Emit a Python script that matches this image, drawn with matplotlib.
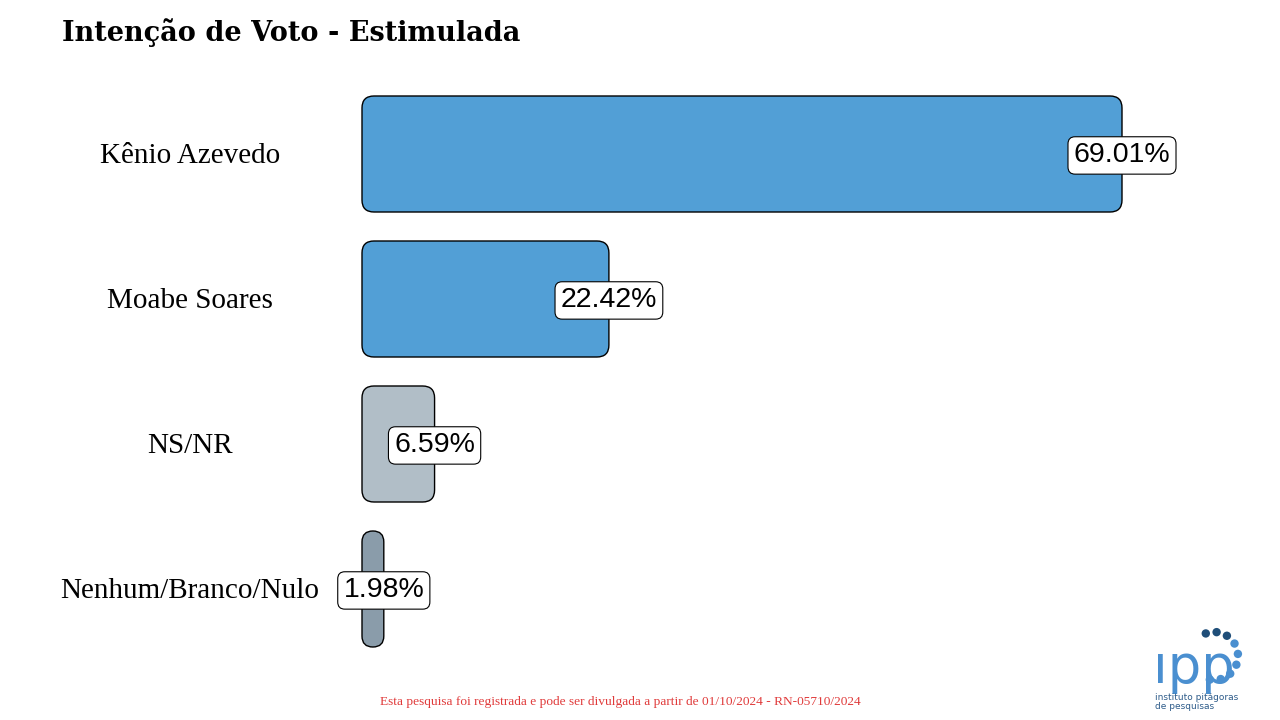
import matplotlib
matplotlib.use("Agg")
import matplotlib.pyplot as plt
from matplotlib.patches import FancyBboxPatch, Circle
from matplotlib.transforms import IdentityTransform
import numpy as np

# data
candidates = ["Kênio Azevedo", "Moabe Soares", "NS/NR", "Nenhum/Branco/Nulo"]
votes = [69.01, 22.42, 6.59, 1.98]
bar_colors = ["#529FD6", "#529FD6", "#B1BEC7", "#8A9CAA"]

title = "Intenção de Voto - Estimulada"
footer = "Esta pesquisa foi registrada e pode ser divulgada a partir de 01/10/2024 - RN-05710/2024"

W, H = 1280, 720
fig = plt.figure(figsize=(W / 100, H / 100), dpi=100)

# axes box in pixels
ax_l, ax_r, ax_t, ax_b = 362, 1260, 81.5, 661.5
ax = fig.add_axes([ax_l / W, 1 - ax_b / H, (ax_r - ax_l) / W, (ax_b - ax_t) / H])
xmax = (ax_r - ax_l) / (760 / 69.01)
ax.set_xlim(0, xmax)
ax.set_ylim(len(candidates) - 0.5, -0.5)
ax.axis("off")

# rounded bars, corners kept round in pixel space
xpp = xmax / (ax_r - ax_l)
ypp = len(candidates) / (ax_b - ax_t)
aspect = ypp / xpp
bh = 0.8
for i, (v, c) in enumerate(zip(votes, bar_colors)):
    r = min(12 * xpp, v / 2)
    box = FancyBboxPatch((0, i - bh / 2), v, bh,
                         boxstyle=f"round,pad=0,rounding_size={r}",
                         mutation_aspect=aspect, clip_on=False,
                         facecolor=c, edgecolor="black", linewidth=1.0)
    ax.add_patch(box)
    ax.text(v, i + 0.01, f"{v:.2f}%", ha="center", va="center", fontsize=20.5,
            family="Liberation Sans", clip_on=False, zorder=5,
            bbox=dict(boxstyle="round,pad=0.2,rounding_size=0.25",
                      facecolor="white", edgecolor="black", linewidth=0.8))

# category labels, centred left of the bars
for i, name in enumerate(candidates):
    ypix = ax_t + (i + 0.5) * (ax_b - ax_t) / len(candidates)
    fig.text(190 / W, 1 - (ypix + 2) / H, name, ha="center", va="center",
             fontsize=21, family="Liberation Serif")

fig.text(62 / W, 1 - 33 / H, title, ha="left", va="center", fontsize=19.5,
         fontweight="bold", family="DejaVu Serif")

fig.text(620 / W, 1 - 702 / H, footer, ha="center", va="center", fontsize=9.6,
         family="Liberation Serif", color="#E03A3A")

# small IPP logo
fig.text(1153 / W, 1 - 668 / H, "ıpp", ha="left", va="center", fontsize=38,
         family="DejaVu Sans", color="#4A8FD0")
fig.text(1155 / W, 1 - 702 / H, "instituto pitágoras\nde pesquisas", ha="left",
         va="center", fontsize=6.5, family="DejaVu Sans", color="#2E5C8A",
         linespacing=0.95)
ang = np.linspace(110, -100, 9)
for k, a in enumerate(ang):
    cx = 1214 + 24 * np.cos(np.radians(a))
    cy = 656 - 24 * np.sin(np.radians(a))
    col = "#1F4E79" if k < 3 else "#4A8FD0"
    fig.add_artist(Circle((cx, H - cy), 4.2, transform=IdentityTransform(),
                          facecolor=col, edgecolor="none"))

fig.savefig("out.png", dpi=100)
